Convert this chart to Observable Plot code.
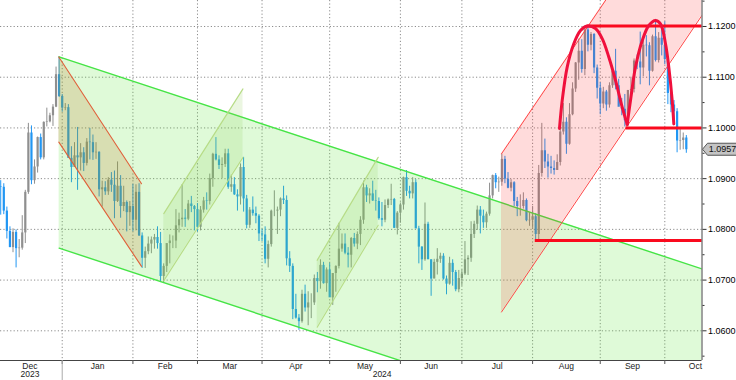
<!DOCTYPE html>
<html><head><meta charset="utf-8">
<script src="https://cdn.jsdelivr.net/npm/d3@7"></script>
<script src="https://cdn.jsdelivr.net/npm/@observablehq/plot@0.6"></script>
<style>
body{margin:0;background:#fff;}
#chart svg{overflow:visible;}
</style></head><body><div id="chart"></div>
<script>
// Daily EUR/USD candles, trading-day index 0 = 1 Dec 2023
const opens = [
1.0884,1.0883,1.0836,1.0796,1.0764,1.0794,1.0762,1.0763,1.0793,1.0873,1.0990,1.0896,1.0923,1.0981,1.0941,1.1011,1.1012,1.1024,1.1041,1.1105,1.1062,
1.1039,1.1040,1.0940,1.0922,1.0945,1.0941,1.0951,1.0930,1.0972,1.0971,1.0951,1.0952,1.0878,1.0882,1.0874,1.0897,1.0887,1.0855,1.0885,1.0845,1.0853,1.0833,1.0845,
1.0818,1.0873,1.0787,1.0743,1.0756,1.0771,1.0779,1.0784,1.0772,1.0707,1.0727,1.0772,1.0777,1.0777,1.0807,1.0819,1.0822,1.0820,1.0850,1.0845,1.0839,
1.0804,1.0838,1.0856,1.0855,1.0900,1.0948,1.0937,1.0926,1.0928,1.0949,1.0883,1.0888,1.0868,1.0864,1.0922,1.0860,1.0808,1.0838,1.0831,1.0826,1.0791,
1.0789,1.0741,1.0770,1.0836,1.0836,1.0838,1.0860,1.0857,1.0742,1.0727,1.0642,1.0625,1.0618,1.0672,1.0645,1.0655,1.0655,1.0703,1.0697,1.0729,1.0693,1.0720,
1.0665,1.0713,1.0727,1.0761,1.0771,1.0753,1.0749,1.0782,1.0771,1.0790,1.0818,1.0882,1.0866,1.0870,1.0856,1.0855,1.0821,1.0818,1.0847,1.0858,1.0859,1.0802,1.0832,
1.0848,1.0902,1.0875,1.0870,1.0892,1.0801,1.0765,1.0740,1.0810,1.0740,1.0702,1.0735,1.0741,1.0747,1.0702,1.0692,1.0733,1.0715,1.0681,1.0703,
1.0712,1.0740,1.0743,1.0790,1.0810,1.0838,1.0826,1.0813,1.0830,1.0866,1.0906,1.0892,1.0893,1.0938,1.0899,1.0881,1.0892,1.0855,1.0845,1.0845,1.0857,1.0817,1.0818,
1.0825,1.0790,1.0910,1.0955,1.0933,1.0923,1.0920,1.0916,1.0932,1.0992,1.1011,1.0968,1.1026,1.1077,1.1128,1.1151,1.1115,1.1193,1.1163,1.1184,1.1118,1.1078,
1.1047,1.1071,1.1045,1.1083,1.1112,1.1083,1.1041,1.1037,1.1014,1.1074,1.1076,1.1132,1.1130,1.1118,1.1163,1.1162,1.1112,1.1180,1.1133,1.1177,1.1163,
1.1135,1.1068,1.1045,1.1032,1.0974,1.0975,1.0980
];
const highs = [
1.0896,1.0890,1.0844,1.0805,1.0801,1.0799,1.0780,1.0827,1.0877,1.1009,1.1004,1.0937,1.0982,1.0988,1.1012,1.1039,1.1029,1.1046,1.1120,1.1140,1.1066,
1.1048,1.1046,1.0963,1.0971,1.1001,1.0969,1.0961,1.0979,1.0999,1.0986,1.0971,1.0953,1.0895,1.0894,1.0902,1.0912,1.0915,1.0933,1.0906,1.0885,1.0856,1.0855,1.0889,
1.0888,1.0890,1.0793,1.0765,1.0785,1.0785,1.0790,1.0805,1.0794,1.0732,1.0771,1.0789,1.0787,1.0839,1.0832,1.0888,1.0839,1.0857,1.0865,1.0847,1.0851,
1.0845,1.0863,1.0872,1.0909,1.0950,1.0981,1.0945,1.0941,1.0958,1.0958,1.0907,1.0902,1.0878,1.0929,1.0942,1.0867,1.0843,1.0864,1.0844,1.0829,1.0800,
1.0805,1.0777,1.0838,1.0876,1.0844,1.0862,1.0885,1.0866,1.0756,1.0732,1.0672,1.0632,1.0680,1.0690,1.0677,1.0673,1.0710,1.0715,1.0740,1.0735,1.0724,1.0733,
1.0713,1.0728,1.0812,1.0791,1.0791,1.0764,1.0784,1.0792,1.0795,1.0825,1.0895,1.0887,1.0880,1.0895,1.0877,1.0862,1.0853,1.0858,1.0860,1.0889,1.0861,1.0835,1.0852,
1.0903,1.0916,1.0885,1.0902,1.0898,1.0806,1.0766,1.0852,1.0814,1.0740,1.0741,1.0762,1.0753,1.0752,1.0708,1.0745,1.0740,1.0719,1.0719,1.0720,
1.0776,1.0748,1.0815,1.0816,1.0846,1.0845,1.0838,1.0834,1.0891,1.0907,1.0910,1.0903,1.0948,1.0944,1.0912,1.0898,1.0894,1.0863,1.0868,1.0872,1.0860,1.0833,1.0845,
1.0831,1.0926,1.1009,1.0978,1.0948,1.0944,1.0935,1.0947,1.1003,1.1048,1.1020,1.1048,1.1089,1.1129,1.1175,1.1174,1.1201,1.1202,1.1188,1.1186,1.1124,1.1089,
1.1080,1.1074,1.1089,1.1120,1.1155,1.1096,1.1058,1.1066,1.1074,1.1100,1.1136,1.1144,1.1189,1.1178,1.1182,1.1168,1.1183,1.1214,1.1188,1.1193,1.1209,
1.1139,1.1083,1.1054,1.1038,1.0998,1.0990,1.0985
];
const lows = [
1.0828,1.0829,1.0781,1.0764,1.0754,1.0724,1.0744,1.0759,1.0772,1.0869,1.0888,1.0889,1.0911,1.0937,1.0937,1.1002,1.1010,1.1003,1.1040,1.1060,1.1031,
1.1034,1.0940,1.0892,1.0922,1.0877,1.0915,1.0914,1.0925,1.0937,1.0936,1.0938,1.0864,1.0844,1.0867,1.0867,1.0873,1.0821,1.0853,1.0822,1.0835,1.0795,1.0806,1.0795,
1.0797,1.0786,1.0723,1.0723,1.0750,1.0752,1.0761,1.0761,1.0696,1.0695,1.0715,1.0732,1.0762,1.0762,1.0793,1.0804,1.0804,1.0817,1.0833,1.0797,1.0795,
1.0797,1.0832,1.0838,1.0848,1.0883,1.0935,1.0918,1.0900,1.0922,1.0879,1.0873,1.0867,1.0836,1.0848,1.0834,1.0801,1.0802,1.0826,1.0811,1.0776,1.0776,
1.0732,1.0724,1.0765,1.0825,1.0790,1.0825,1.0849,1.0728,1.0715,1.0622,1.0623,1.0601,1.0615,1.0637,1.0610,1.0624,1.0650,1.0675,1.0682,1.0692,1.0676,1.0666,
1.0650,1.0676,1.0722,1.0755,1.0750,1.0724,1.0724,1.0765,1.0760,1.0768,1.0810,1.0853,1.0850,1.0855,1.0836,1.0818,1.0805,1.0813,1.0841,1.0847,1.0802,1.0789,1.0812,
1.0838,1.0865,1.0860,1.0860,1.0801,1.0732,1.0719,1.0737,1.0743,1.0668,1.0703,1.0710,1.0733,1.0700,1.0671,1.0690,1.0688,1.0677,1.0675,1.0688,
1.0709,1.0709,1.0735,1.0782,1.0798,1.0791,1.0802,1.0802,1.0826,1.0860,1.0880,1.0873,1.0885,1.0890,1.0880,1.0874,1.0845,1.0825,1.0826,1.0840,1.0815,1.0806,1.0802,
1.0777,1.0780,1.0903,1.0920,1.0901,1.0909,1.0907,1.0918,1.0925,1.0986,1.0948,1.0966,1.1024,1.1070,1.1094,1.1108,1.1103,1.1150,1.1152,1.1107,1.1057,1.1026,
1.1038,1.1033,1.1039,1.1078,1.1075,1.1042,1.1024,1.1002,1.1002,1.1062,1.1069,1.1115,1.1085,1.1101,1.1140,1.1083,1.1110,1.1130,1.1128,1.1142,1.1125,
1.1046,1.1030,1.1008,1.0951,1.0956,1.0957,1.0950
];
const closes = [
1.0883,1.0836,1.0796,1.0764,1.0794,1.0762,1.0763,1.0793,1.0873,1.0990,1.0896,1.0923,1.0981,1.0941,1.1011,1.1012,1.1024,1.1041,1.1105,1.1062,1.1039,
1.1040,1.0940,1.0922,1.0945,1.0941,1.0951,1.0930,1.0972,1.0971,1.0951,1.0952,1.0878,1.0882,1.0874,1.0897,1.0887,1.0855,1.0885,1.0845,1.0853,1.0833,1.0845,1.0818,
1.0873,1.0787,1.0743,1.0756,1.0771,1.0779,1.0784,1.0772,1.0707,1.0727,1.0772,1.0777,1.0777,1.0807,1.0819,1.0822,1.0820,1.0850,1.0845,1.0839,1.0804,
1.0838,1.0856,1.0855,1.0900,1.0948,1.0937,1.0926,1.0928,1.0949,1.0883,1.0888,1.0868,1.0864,1.0922,1.0860,1.0808,1.0838,1.0831,1.0826,1.0791,1.0789,
1.0741,1.0770,1.0836,1.0836,1.0838,1.0860,1.0857,1.0742,1.0727,1.0642,1.0625,1.0618,1.0672,1.0645,1.0655,1.0655,1.0703,1.0697,1.0729,1.0693,1.0720,1.0665,
1.0713,1.0727,1.0761,1.0771,1.0753,1.0749,1.0782,1.0771,1.0790,1.0818,1.0882,1.0866,1.0870,1.0856,1.0855,1.0821,1.0818,1.0847,1.0858,1.0859,1.0802,1.0832,1.0848,
1.0902,1.0875,1.0870,1.0892,1.0801,1.0765,1.0740,1.0810,1.0740,1.0702,1.0735,1.0741,1.0747,1.0702,1.0692,1.0733,1.0715,1.0681,1.0703,1.0712,
1.0740,1.0743,1.0790,1.0810,1.0838,1.0826,1.0813,1.0830,1.0866,1.0906,1.0892,1.0893,1.0938,1.0899,1.0881,1.0892,1.0855,1.0845,1.0845,1.0857,1.0817,1.0818,1.0825,
1.0790,1.0910,1.0955,1.0933,1.0923,1.0920,1.0916,1.0932,1.0992,1.1011,1.0968,1.1026,1.1077,1.1128,1.1151,1.1115,1.1193,1.1163,1.1184,1.1118,1.1078,1.1047,
1.1071,1.1045,1.1083,1.1112,1.1083,1.1041,1.1037,1.1014,1.1074,1.1076,1.1132,1.1130,1.1118,1.1163,1.1162,1.1112,1.1180,1.1133,1.1177,1.1163,1.1135,
1.1068,1.1045,1.1032,1.0974,1.0975,1.0980,1.0957
];

// Month axis: trading-day index of each month's first session
const monthNames = ["Dec","Jan","Feb","Mar","Apr","May","Jun","Jul","Aug","Sep","Oct"];
const monthFirst = [0,21,44,65,86,108,131,151,174,196,217];
const yearNames = ["2023","2024"];
const priceTicks = [1.06,1.07,1.08,1.09,1.10,1.11,1.12];
const minorTicks = [1.055,1.065,1.075,1.085,1.095,1.105,1.115,1.125];
const lastPrice = 1.0957;

// Drawn annotations: [index, price] anchors
const bigChannel = {from: 19, to: 228.1, top: [1.1140, 1.0722], bottom: [1.0763, 1.0345]};
const fallChannel = {from: 18.9, to: 45.8, top: [1.1140, 1.0890], bottom: [1.0972, 1.0727]};
const riseChannels = [
  {from: 53.05, to: 78.8, top: [1.0831, 1.1077], bottom: [1.0699, 1.0942]},
  {from: 102.94, to: 122.78, top: [1.0739, 1.0942], bottom: [1.0607, 1.0808]}
];
const redChannel = {from: 162.89, to: 228.1, top: [1.0949, 1.1532], bottom: [1.0637, 1.1222]};
const levels = [{from: 190.76, price: 1.1201}, {from: 203.4, price: 1.1000}, {from: 173.87, price: 1.0778}];
const arc1 = [[181.75,1.0999],[182.63,1.1054],[184.25,1.1120],[186.4,1.1166],[188.58,1.1192],[190.76,1.1201],[193.46,1.1196],[195.64,1.1176],[197.78,1.1140],[199.96,1.1094],[202.14,1.1041],[203.77,1.1007]];
const arc2 = [[203.77,1.1007],[204.84,1.1054],[206.47,1.1120],[208.65,1.1172],[210.79,1.1202],[212.97,1.1212],[214.6,1.1205],[216.23,1.1166],[217.3,1.1120],[218.41,1.1054],[218.93,1.1008]];

const X0 = -0.07, X1 = 228.1, Y0 = 1.054144, Y1 = 1.125126;
const candles = closes.map((c, i) => ({i, o: opens[i], h: highs[i], l: lows[i], c, up: c >= opens[i]}));
const monthBounds = monthFirst.map(f => f - 1).filter(b => b > X0);
const monthMids = monthFirst.map((f, k) => k + 1 < monthFirst.length ? (f - 1 + monthFirst[k + 1] - 1) / 2 : null);
const labelData = monthNames.map((m, k) => ({m, x: monthMids[k]})).filter(d => d.x != null);
const yearData = [{t: yearNames[0], x: monthMids[0]}, {t: yearNames[1], x: (monthFirst[1] - 1 + X1) / 2}];

function band(ch) {
  return [{x: ch.from, y1: ch.bottom[0], y2: ch.top[0]}, {x: ch.to, y1: ch.bottom[1], y2: ch.top[1]}];
}
function edge(ch, key) { return [[ch.from, ch[key][0]], [ch.to, ch[key][1]]]; }

const UP = "#8f8f8f", DOWN = "#2196f3";
const GRID = {stroke: "#8c8c8c", strokeOpacity: 1, strokeDasharray: "1.2,2.2", strokeWidth: 1};

const chart = Plot.plot({
  width: 736, height: 380,
  marginLeft: 0, marginRight: 34.5, marginTop: 0, marginBottom: 20,
  x: {type: "linear", domain: [X0, X1], axis: null},
  y: {type: "linear", domain: [Y0, Y1], axis: null},
  style: {fontFamily: "Liberation Sans, Arial, sans-serif", fontSize: "9px", background: "#fff", color: "#000"},
  marks: [
    Plot.gridX(monthBounds, GRID),
    Plot.gridY(priceTicks, GRID),
    // candles
    Plot.ruleX(candles, {x: "i", y1: "l", y2: "h", stroke: d => d.up ? UP : DOWN, strokeWidth: 1, clip: true}),
    Plot.ruleX(candles, {x: "i", y1: "o", y2: "c", stroke: d => d.up ? UP : DOWN, strokeWidth: 2.2, clip: true}),
    // big falling channel
    Plot.areaY(band(bigChannel), {x: "x", y1: "y1", y2: "y2", fill: "#5fe63c", fillOpacity: 0.2, clip: true}),
    Plot.line(edge(bigChannel, "top"), {stroke: "#46e446", strokeWidth: 1.4, clip: true}),
    Plot.line(edge(bigChannel, "bottom"), {stroke: "#46e446", strokeWidth: 1.4, clip: true}),
    // small rising channels
    ...riseChannels.flatMap(ch => [
      Plot.areaY(band(ch), {x: "x", y1: "y1", y2: "y2", fill: "#8fcf5a", fillOpacity: 0.18, clip: true}),
      Plot.line(edge(ch, "top"), {stroke: "#b7dc86", strokeWidth: 1.1, clip: true}),
      Plot.line(edge(ch, "bottom"), {stroke: "#b7dc86", strokeWidth: 1.1, clip: true})
    ]),
    // January falling channel
    Plot.areaY(band(fallChannel), {x: "x", y1: "y1", y2: "y2", fill: "#c0701c", fillOpacity: 0.2, clip: true}),
    Plot.line(edge(fallChannel, "top"), {stroke: "#e0603a", strokeWidth: 1.1, clip: true}),
    Plot.line(edge(fallChannel, "bottom"), {stroke: "#e0603a", strokeWidth: 1.1, clip: true}),
    // red rising channel
    Plot.areaY(band(redChannel), {x: "x", y1: "y1", y2: "y2", fill: "#ff2a2a", fillOpacity: 0.17, clip: true}),
    Plot.line(edge(redChannel, "top"), {stroke: "#ff4646", strokeWidth: 1, clip: true}),
    Plot.line(edge(redChannel, "bottom"), {stroke: "#ff4646", strokeWidth: 1, clip: true}),
    // levels and arcs
    Plot.ruleY(levels, {y: "price", x1: "from", x2: X1, stroke: "#fa0a1e", strokeWidth: 3}),
    Plot.line(arc1, {curve: "catmull-rom", stroke: "#f0103c", strokeWidth: 3, clip: true}),
    Plot.line(arc2, {curve: "catmull-rom", stroke: "#f0103c", strokeWidth: 3, clip: true}),
    // axes
    Plot.ruleY([Y0], {stroke: "#444"}),
    Plot.ruleX([X1], {stroke: "#444"}),
    Plot.axisY(priceTicks, {anchor: "right", tickSize: 4, tickPadding: 2, tickFormat: d => d.toFixed(4), fontSize: 9, label: null, stroke: "#333"}),
    Plot.axisY(minorTicks.filter(t => t > Y0 && t < Y1), {anchor: "right", tickSize: 2, tickFormat: () => "", label: null, stroke: "#333"}),
    Plot.axisX(monthBounds, {tickSize: 4, tickFormat: () => "", label: null, stroke: "#555"}),
    Plot.axisX([monthFirst[1] - 1], {tickSize: 20, tickFormat: () => "", label: null, stroke: "#aaa"}),
    Plot.text(labelData, {x: "x", y: Y0, text: "m", dy: 2, lineAnchor: "top", fontSize: 8.5, fill: "#222"}),
    Plot.text([monthNames[monthNames.length - 1]], {x: X1, y: Y0, text: d => d, dy: 2, lineAnchor: "top", textAnchor: "end", fontSize: 8.5, fill: "#222"}),
    Plot.text(yearData, {x: "x", y: Y0, text: "t", dy: 10.5, lineAnchor: "top", fontSize: 8.5, fill: "#222"})
  ]
});
document.getElementById("chart").appendChild(chart);

// last price tag on the right axis
const svg = d3.select(chart);
const ys = chart.scale("y"), xs = chart.scale("x");
const py = ys.apply(lastPrice), px = xs.apply(X1) + 1;
const g = svg.append("g");
g.append("path")
  .attr("d", `M${px},${py} L${px + 5},${py - 6} L${px + 34},${py - 6} L${px + 34},${py + 6} L${px + 5},${py + 6} Z`)
  .attr("fill", "#c4c4c4").attr("stroke", "#555").attr("stroke-width", 1);
g.append("text").attr("x", px + 20).attr("y", py).attr("dy", "0.35em")
  .attr("text-anchor", "middle").attr("font-family", "Liberation Sans, Arial, sans-serif")
  .attr("font-size", 9).attr("fill", "#111").text(lastPrice.toFixed(4));
</script></body></html>
